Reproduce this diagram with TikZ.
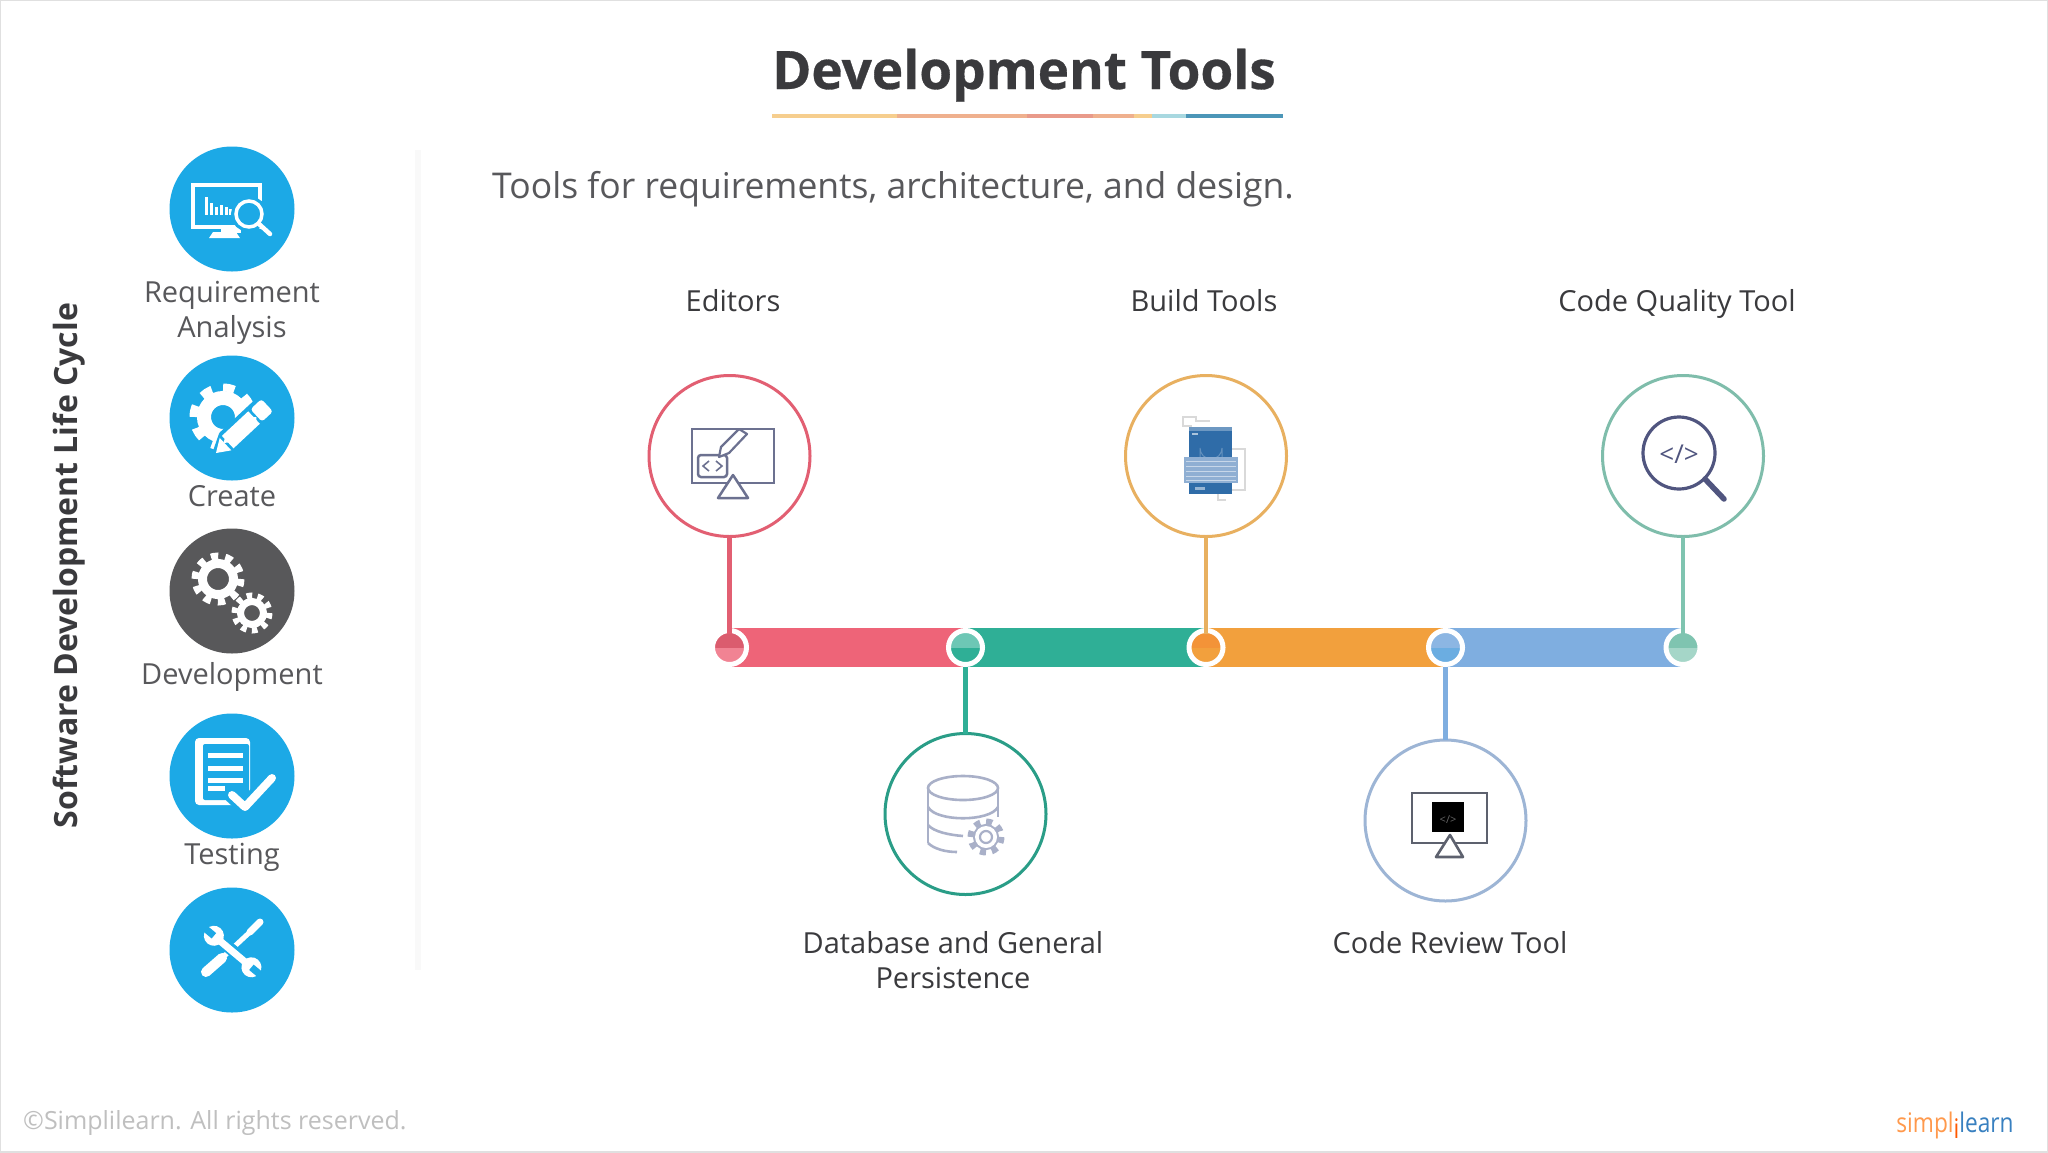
\documentclass[tikz,border=0pt]{standalone}
\usepackage{fontspec}
\setmainfont{Open Sans}
\usetikzlibrary{calc}
\definecolor{ink}{HTML}{3A3A3D}
\definecolor{lblc}{HTML}{58585B}
\definecolor{sky}{HTML}{1CA9E6}
\definecolor{darkc}{HTML}{58585A}
\definecolor{redc}{HTML}{EE6478}
\definecolor{greenc}{HTML}{2FAF96}
\definecolor{orangec}{HTML}{F2A03D}
\definecolor{orangel}{HTML}{E8B060}
\definecolor{bluec}{HTML}{7FAEE0}
\definecolor{bluel}{HTML}{9DB5D5}
\definecolor{tealc}{HTML}{7FC4B0}
\definecolor{iconc}{HTML}{6C7190}
\definecolor{navyc}{HTML}{50557F}
\definecolor{phonec}{HTML}{2F6CA8}
\definecolor{keysc}{HTML}{8FAFD3}
\definecolor{dbc}{HTML}{A9B0C8}
\newcommand{\fs}[1]{\fontsize{#1}{#1}\selectfont}
\newcommand{\gearicon}[7]{%
  \pgfmathsetmacro\gearR{(#4+#5)/2}%
  \pgfmathsetmacro\gearD{3.14159*\gearR/#6}%
  \pgfmathsetmacro\gearT{#5-#4+1}%
  \pgfmathsetmacro\gearM{(#3+#4)/2}%
  \pgfmathsetmacro\gearW{#4-#3}%
  \draw[#7,line width=\gearT pt,dash pattern=on \gearD pt off \gearD pt] (#1,#2) circle[radius=\gearR];
  \draw[#7,line width=\gearW pt] (#1,#2) circle[radius=\gearM];
}
\tikzset{
  side/.style={circle,fill=sky,minimum size=125pt,inner sep=0,outer sep=0},
  lbl/.style={text=lblc,font=\fs{29},align=center,inner sep=0},
  head/.style={text=ink,font=\fs{29},align=center,inner sep=0,anchor=base},
  tool/.style={circle,fill=white,line width=3pt,minimum size=161pt,inner sep=0,outer sep=0},
  dot/.style={circle,line width=5pt,draw=white,minimum size=34pt,inner sep=0,outer sep=0},
  wl/.style={white,line cap=round,line join=round},
  conn/.style={line width=4.5pt},
  seg/.style={line width=39pt}
}
\begin{document}
\begin{tikzpicture}[x=1pt,y=-1pt]
\useasboundingbox (0,0) rectangle (2048,1152);
\fill[white] (0,0) rectangle (2048,1152);
\draw[black!12,line width=2pt] (0,0) rectangle (2048,1152);
\fill[black!2.5] (415,150) rectangle (421,970);
% title
\node[text=ink,font=\fs{53}\bfseries\addfontfeature{FakeBold=0.6},inner sep=0,anchor=base] (title) at (1024,89) {Development Tools};
\coordinate (u0) at (772,116);\coordinate (u1) at (897,116);\coordinate (u2) at (1027,116);\coordinate (u3) at (1093,116);\coordinate (u4) at (1134,116);\coordinate (u5) at (1152,116);\coordinate (u6) at (1186,116);\coordinate (u7) at (1283,116);
\draw[line width=4pt,color={rgb,255:red,246;green,206;blue,142}] (u0)--(u1);
\draw[line width=4pt,color={rgb,255:red,239;green,176;blue,142}] (u1)--(u2);
\draw[line width=4pt,color={rgb,255:red,233;green,154;blue,138}] (u2)--(u3);
\draw[line width=4pt,color={rgb,255:red,239;green,176;blue,142}] (u3)--(u4);
\draw[line width=4pt,color={rgb,255:red,246;green,206;blue,142}] (u4)--(u5);
\draw[line width=4pt,color={rgb,255:red,168;green,216;blue,224}] (u5)--(u6);
\draw[line width=4pt,color={rgb,255:red,76;green,150;blue,184}] (u6)--(u7);
\node[text=lblc,font=\fs{35.5},inner sep=0,anchor=base west] (sub) at (492,198) {Tools for requirements, architecture, and design.};
\node[text=ink,font=\fs{32}\bfseries,rotate=90,inner sep=0] (sdlc) at (69,565.5) {Software Development Life Cycle};
% side circles
\node[side] (s1) at (232,209) {};
\node[side] (s2) at (232,418) {};
\node[side,fill=darkc] (s3) at (232,591) {};
\node[side] (s4) at (232,776) {};
\node[side] (s5) at (232,950) {};
\node[lbl] (l1) at (232,312.5) {Requirement\\[6pt]Analysis};
\node[lbl] (l2) at (232,496.5) {Create};
\node[lbl] (l3) at (232,676.5) {Development};
\node[lbl] (l4) at (232,857.5) {Testing};
% icon 1
\draw[white,line width=4pt] (193,185) rectangle (260,227);
\fill[white] (221,227) rectangle (241,233);
\fill[white] (209,238) -- (213,232) -- (236,232) -- (240,238) -- cycle;
\foreach \bx/\bt in {205/197,210/203,215/207,220/205,225/207,229/209}
  \fill[white] (\bx,\bt) rectangle ++(2.6,215-\bt);
\draw[sky,line width=10pt,fill=sky] (249,214) circle[radius=13];
\draw[white,line width=3.5pt] (249,214) circle[radius=13];
\draw[wl,line width=4.5pt] (259,224) -- (270,234);
% icon 2
\gearicon{223}{417}{12}{26}{33}{8}{white}
\begin{scope}[shift={(216,453)},rotate=43]
\draw[sky,line width=7pt,line join=round] (0,0) -- (17,-9) -- (70,-9) -- (70,9) -- (17,9) -- cycle;
\fill[white] (0,0) -- (13,-8.5) -- (13,8.5) -- cycle;
\fill[white] (16,-8.5) rectangle (52,8.5);
\fill[white,rounded corners=3pt] (55,-8.5) rectangle (70,8.5);
\end{scope}
% icon 3
\gearicon{218}{579}{11}{20}{26}{10}{white}
\gearicon{252}{613}{8}{15}{20}{10}{white}
% icon 4
\fill[white,rounded corners=4pt] (195,738) rectangle (250,805);
\fill[sky,rounded corners=2pt] (203,744) rectangle (249,800);
\foreach \ly/\lx in {755/243,768/243,780/243,788/225}
  \draw[white,line width=5pt] (208,\ly) -- (\lx,\ly);
\draw[sky,line width=16pt,line cap=round,line join=round] (232,795) -- (245,807) -- (272,778);
\draw[wl,line width=8pt] (232,795) -- (245,807) -- (272,778);
% icon 5
\draw[wl,line width=10pt] (206,972) -- (222,958);
\draw[white,line width=5pt] (222,958) -- (250,932);
\draw[wl,line width=7pt] (250,932) -- (260,922);
\draw[sky,line width=12pt] (220,940) -- (245,961);
\begin{scope}[shift={(207,930)},rotate=-40]
\draw[white,line width=7pt] (8,0) -- (59,0);
\fill[white] (9,0) circle[radius=10];
\fill[white] (58,0) circle[radius=10];
\fill[sky] (-3,-3.5) rectangle (9,3.5);
\fill[sky] (58,-3.5) rectangle (70,3.5);
\end{scope}
% timeline
\node[dot] (d1) at (729.5,647.5) {};
\node[dot] (d2) at (965.5,647.5) {};
\node[dot] (d3) at (1206,647.5) {};
\node[dot] (d4) at (1445.5,647.5) {};
\node[dot] (d5) at (1683,647.5) {};
\draw[seg,redc] (d1.center) -- (d2.center);
\draw[seg,greenc] (d2.center) -- (d3.center);
\draw[seg,orangec] (d3.center) -- (d4.center);
\draw[seg,bluec] (d4.center) -- (d5.center);
\newcommand{\twodot}[3]{%
  \node[dot,fill=#2,path picture={\fill[#3] (path picture bounding box.west) rectangle (path picture bounding box.south east);}] at (#1.center) {};}
\twodot{d1}{redc!92!black}{redc!80!white}
\twodot{d2}{greenc!70!white}{greenc}
\twodot{d3}{orangec!92!red}{orangec}
\twodot{d4}{bluec!90!white}{bluec!80!sky}
\twodot{d5}{tealc}{tealc!70!white}
% tool circles
\node[tool,draw=redc!95!black] (c1) at (729.5,456) {};
\node[tool,draw=orangel] (c3) at (1206,456) {};
\node[tool,draw=tealc!90!gray] (c5) at (1683,456) {};
\node[tool,draw=greenc!90!black] (c2) at (965.5,814) {};
\node[tool,draw=bluel] (c4) at (1445.5,820.5) {};
\draw[conn,redc!95!black,shorten >=-3pt] (c1.south) -- (d1.north);
\draw[conn,orangel,shorten >=-3pt] (c3.south) -- (d3.north);
\draw[conn,tealc,shorten >=-3pt] (c5.south) -- (d5.north);
\draw[conn,greenc,shorten <=2pt] (d2.south) -- (c2.north);
\draw[conn,bluec,shorten <=2pt] (d4.south) -- (c4.north);
% tool labels
\node[head] (h1) at (733,311) {Editors};
\node[head] (h3) at (1204,311) {Build Tools};
\node[head] (h5) at (1677,311) {Code Quality Tool};
\node[head,anchor=center] (h2) at (953,960.5) {Database and General\\[6pt]Persistence};
\node[head] (h4) at (1450,953) {Code Review Tool};
% editor icon
\draw[iconc,line width=2.5pt] (692,429) rectangle (774,483);
\draw[iconc,line width=2.5pt,fill=white,rounded corners=3pt] (698,455) rectangle (727,477);
\draw[iconc,line width=1.6pt] (709,461) -- (703,466) -- (709,471);
\draw[iconc,line width=1.6pt] (716,461) -- (722,466) -- (716,471);
\draw[iconc,line width=2.2pt,fill=white,line join=round] (719,457) -- (721,447) -- (739,429) -- (747,434) -- (729,453) -- cycle;
\draw[iconc,line width=2.5pt,fill=white,line join=round] (733,475) -- (748,498) -- (718,498) -- cycle;
% build icon
\draw[black!15,line width=1.5pt] (1192,426) -- (1183,426) -- (1183,417) -- (1196,417) -- (1196,421) -- (1210,421);
\draw[black!15,line width=1.5pt] (1232,449) -- (1245,449) -- (1245,490) -- (1232,490);
\draw[black!15,line width=1.5pt] (1218,494) -- (1218,500) -- (1226,500);
\fill[phonec] (1189,427) rectangle (1232,494);
\fill[phonec!70!white] (1189,427) rectangle (1232,431);
\fill[white,opacity=.6] (1192,433) rectangle (1198,435);
\draw[white,opacity=.25,line width=1pt] (1200,457) -- (1200,448) arc[start angle=180,end angle=0,radius=11] -- (1222,457);
\fill[white,opacity=.5] (1195,487) rectangle (1205,490);
\fill[keysc] (1184,457) rectangle (1238,483);
\foreach \ky in {461,466,471,476,480}
  \draw[white,opacity=.5,line width=.8pt] (1186,\ky) -- (1236,\ky);
% code quality icon
\draw[navyc,line width=3.2pt] (1679,453) circle[radius=36];
\draw[navyc,line width=5.5pt,line cap=round] (1705,479) -- (1724,499);
\node[text=navyc,font=\fs{26},inner sep=0] (cq) at (1679,454) {</>};
% database icon
\draw[dbc,line width=2.6pt] (963,788) ellipse[x radius=35,y radius=12];
\draw[dbc,line width=2.6pt] (928,788) -- (928,843);
\draw[dbc,line width=2.6pt] (998,788) -- (998,817);
\draw[dbc,line width=2.6pt] (928,807) .. controls (936,822) and (990,822) .. (998,807);
\draw[dbc,line width=2.6pt] (928,825) .. controls (934,832) and (950,835) .. (963,836);
\draw[dbc,line width=2.6pt] (928,843) .. controls (934,849) and (946,852) .. (957,852);
\gearicon{986}{837}{5}{13}{18}{8}{dbc}
\fill[white] (986,837) circle[radius=11];
\draw[dbc,line width=2.2pt] (986,837) circle[radius=6];
% review icon
\draw[black!45!dbc,line width=2.6pt] (1412,793) rectangle (1487,843);
\fill[black] (1432,802) rectangle (1464,832);
\node[text=black!60,font=\fs{11},inner sep=0] (rv) at (1448,820) {</>};
\draw[black!45!dbc,line width=2.6pt,fill=white,line join=round] (1450,835) -- (1463,857) -- (1436,857) -- cycle;
% footer
\node[text=black!25,font=\fs{25},inner sep=0,anchor=base west] (copy) at (23,1129) {©Simplilearn. All rights reserved.};
\node[inner sep=0,font=\fs{27},anchor=base] (logo) at (1955,1132) {\scalebox{.84}[1]{\textcolor{orange!60!pink}{simpl}\raisebox{-6pt}{\textcolor{orange!70!red}{i}}\textcolor{cyan!60!blue!80!gray}{learn}}};
\end{tikzpicture}
\end{document}
